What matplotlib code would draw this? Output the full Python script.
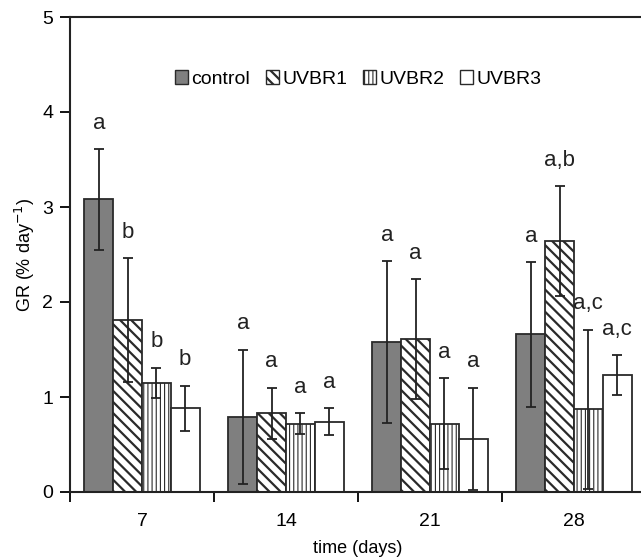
import matplotlib
matplotlib.use("Agg")
import matplotlib.pyplot as plt
import numpy as np
from matplotlib.patches import Patch

plt.rcParams['font.family'] = ['Liberation Sans', 'DejaVu Sans']

days = ["7", "14", "21", "28"]
series = ["control", "UVBR1", "UVBR2", "UVBR3"]
control = [3.08, 0.79, 1.58, 1.66]
uvbr1 = [1.81, 0.83, 1.61, 2.64]
uvbr2 = [1.15, 0.72, 0.72, 0.87]
uvbr3 = [0.88, 0.74, 0.56, 1.23]
control_err = [0.53, 0.71, 0.85, 0.76]
uvbr1_err = [0.65, 0.27, 0.63, 0.58]
uvbr2_err = [0.16, 0.11, 0.48, 0.84]
uvbr3_err = [0.24, 0.14, 0.54, 0.21]
letters_control = ["a", "a", "a", "a"]
letters_uvbr1 = ["b", "a", "a", "a,b"]
letters_uvbr2 = ["b", "a", "a", "a,c"]
letters_uvbr3 = ["b", "a", "a", "a,c"]

values = [control, uvbr1, uvbr2, uvbr3]
errors = [control_err, uvbr1_err, uvbr2_err, uvbr3_err]
letters = [letters_control, letters_uvbr1, letters_uvbr2, letters_uvbr3]
faces = ["#7f7f7f", "white", "white", "white"]
hatches = [None, "\\\\\\", "||||", None]
hatch_lw = [1.0, 1.6, 0.8, 1.0]


def set_hlw(patch, lw):
    try:
        patch.set_hatch_linewidth(lw)
    except Exception:
        pass


fig = plt.figure(figsize=(6.41, 5.6), dpi=100)
ax = fig.add_axes([70/641, 1-492/560, 576/641, (492-17)/560])

x = np.arange(len(days)) + 0.5
w = 0.2
for i in range(4):
    xi = x + (i - 1.5) * w
    plt.rcParams['hatch.linewidth'] = hatch_lw[i]
    bars = ax.bar(xi, values[i], w, color=faces[i], edgecolor="#2a2a2a", linewidth=1.3,
                  hatch=hatches[i], zorder=2)
    for b in bars:
        set_hlw(b, hatch_lw[i])
    ax.errorbar(xi, values[i], yerr=errors[i], fmt="none", ecolor="#222222",
                elinewidth=1.3, capsize=3.6, capthick=1.3, zorder=3)
    for j in range(4):
        ax.annotate(letters[i][j], (xi[j], values[i][j] + errors[i][j]),
                    xytext=(0, 11), textcoords="offset points",
                    ha="center", va="bottom", fontsize=16, color="#222222")

ax.set_xlim(0, 4)
ax.set_ylim(0, 5)
ax.set_yticks([0, 1, 2, 3, 4, 5])
ax.set_xticks([0, 1, 2, 3, 4])
ax.set_xticklabels([])
ax.set_xticks(x, minor=True)
ax.set_xticklabels(days, minor=True)
ax.tick_params(axis="x", which="minor", length=0, pad=15, labelsize=14)
ax.tick_params(axis="x", which="major", length=7, width=1.3, direction="out")
ax.tick_params(axis="y", length=7, width=1.3, labelsize=14, pad=5)
for s in ["left", "bottom", "top"]:
    ax.spines[s].set_linewidth(1.5)
    ax.spines[s].set_color("#222222")
ax.spines["right"].set_visible(False)

ax.set_xlabel("time (days)", fontsize=13, labelpad=7)
ax.set_ylabel("GR (% day$^{\\mathsf{-1}}$)", fontsize=13, labelpad=4)

handles = []
for i in range(4):
    plt.rcParams['hatch.linewidth'] = hatch_lw[i]
    p = Patch(facecolor=faces[i], edgecolor="#2a2a2a", hatch=hatches[i], linewidth=1)
    set_hlw(p, hatch_lw[i])
    handles.append(p)
leg = ax.legend(handles, series, loc="upper center", bbox_to_anchor=(0.5, 0.905),
                ncol=4, frameon=False, fontsize=14, handlelength=0.7, handleheight=0.7,
                handletextpad=0.15, columnspacing=0.8, borderaxespad=0)
for h, lw in zip(leg.legend_handles, hatch_lw):
    set_hlw(h, lw)

fig.savefig("out.png", dpi=100)
